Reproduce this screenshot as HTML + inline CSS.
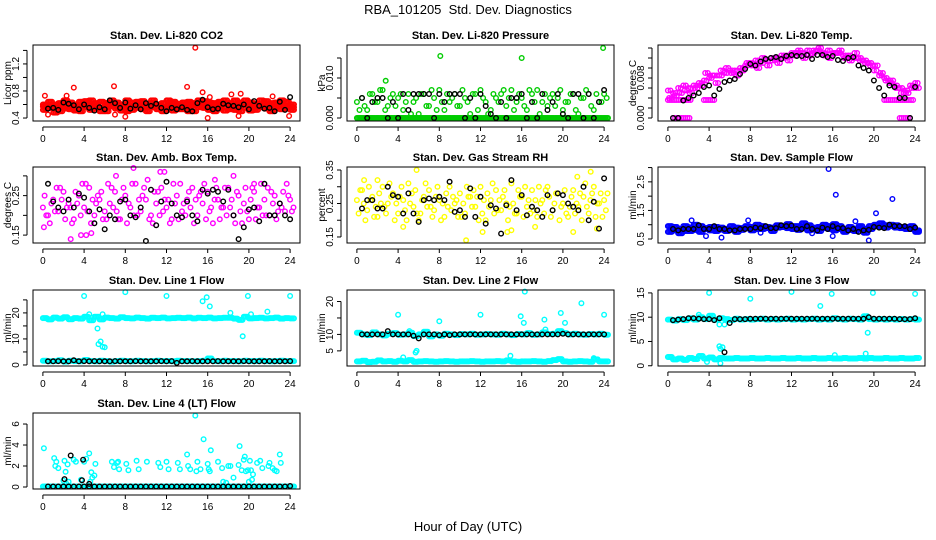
<!DOCTYPE html>
<html><head><meta charset="utf-8"><style>
body{margin:0;background:#fff}
svg{display:block;font-family:"Liberation Sans",sans-serif}
</style></head><body>
<svg id="chart" width="936" height="540" viewBox="0 0 936 540">
<text x="468" y="14" text-anchor="middle" font-size="13">RBA_101205&#160; Std. Dev. Diagnostics</text>
<text x="468" y="531" text-anchor="middle" font-size="13">Hour of Day (UTC)</text>
</svg>
<script>
// ---- data ----
const xTicks=[0,4,8,12,16,20,24];
const co2A=[0.57,0.60,0.55,0.62,0.58,0.53,0.60,0.64,0.56,0.59,0.62,0.55,0.58,0.61,0.54,0.60,0.57,0.63,0.55,0.59,0.61,0.56,0.58,0.62,0.54,0.60,0.57,0.63,0.56,0.59,0.61,0.55,0.58,0.62,0.54,0.60,0.57,0.52,0.59,0.61,0.56,0.58,0.60,0.54,0.62,0.57,0.59,0.55,0.60];
const co2B=[0.52,0.64,0.60,0.50,0.66,0.59,0.51,0.57,0.65,0.52,0.55,0.64,0.50,0.57,0.63,0.51,0.66,0.52,0.60,0.65,0.50,0.62,0.53,0.56,0.66,0.51,0.61,0.53,0.64,0.50,0.56,0.65,0.52,0.55,0.64,0.51,0.62,0.66,0.50,0.55,0.63,0.52,0.56,0.65,0.51,0.60,0.53,0.64,0.52];
const co2C=[0.60,0.55,0.48,0.58,0.54,0.63,0.56,0.50,0.61,0.66,0.58,0.50,0.62,0.66,0.58,0.55,0.50,0.58,0.64,0.53,0.57,0.66,0.60,0.50,0.58,0.64,0.53,0.59,0.50,0.62,0.66,0.59,0.63,0.50,0.58,0.66,0.53,0.58,0.63,0.66,0.51,0.61,0.66,0.58,0.50,0.63,0.66,0.58,0.56];
const co2OutX=[0.2,0.5,2.3,3,6.9,7,8,14,14.8,15.5,16,16.2,18.3,19.2,19,23.9,22.3];
const co2OutY=[0.73,0.45,0.73,0.85,0.87,0.45,0.42,0.86,1.44,0.78,0.40,0.71,0.75,0.76,0.43,0.43,0.72];
const co2Black=[0.54,0.55,0.52,0.63,0.61,0.59,0.53,0.60,0.55,0.51,0.56,0.53,0.66,0.62,0.55,0.63,0.54,0.59,0.53,0.62,0.58,0.61,0.55,0.50,0.55,0.53,0.56,0.52,0.50,0.62,0.67,0.56,0.53,0.54,0.61,0.59,0.58,0.56,0.60,0.53,0.65,0.58,0.54,0.55,0.50,0.64,0.52,0.71];

const prZero=[0,0,0,0,0,0,0,0,0,0,0,0,0,0,0,0,0,0,0,0,0,0,0,0,0,0,0,0,0,0,0,0,0,0,0,0,0,0,0,0,0,0,0,0,0,0,0,0,0];
const prA=[0.004,0.005,0.002,0.006,0.004,0.007,0.003,0.006,0.005,0.002,0.006,0.004,0.001,0.006,0.003,0.005,0.007,0.002,0.004,0.006,0.003,0.005,0.001,0.006,0.007,0.004,0.002,0.005,0.006,0.003,0.007,0.004,0.005,0.002,0.006,0.007,0.004,0.003,0.006,0.005,0.002,0.004,0.006,0.001,0.005,0.006,0.002,0.004,0.006];
const prB=[0.002,0.003,0.006,0.004,0.007,0.002,0.005,0.003,0.006,0.004,0.001,0.005,0.006,0.003,0.007,0.002,0.004,0.006,0.005,0.003,0.007,0.004,0.006,0.002,0.005,0.001,0.006,0.004,0.007,0.005,0.002,0.006,0.003,0.007,0.004,0.001,0.006,0.005,0.003,0.007,0.004,0.006,0.002,0.005,0.007,0.003,0.006,0.004,0.005];
const prOutX=[2.8,8.1,16,23.9];
const prOutY=[0.0093,0.0155,0.015,0.0175];
const prBlack=[0.005,0,0.004,0.005,0.005,0,0.004,0,0.006,0.002,0.006,0.006,0.006,0.006,0,0.006,0.004,0.006,0.006,0.006,0,0.005,0,0.006,0.003,0.001,0,0.004,0,0.005,0.005,0.006,0,0.004,0,0.006,0.002,0.004,0.006,0.001,0,0.006,0.006,0,0.006,0,0.004,0.007];

const tmA=[0.0055,0.005,0.006,0.0065,0.006,0.0065,0.007,0.0075,0.008,0.0085,0.0085,0.009,0.0095,0.0095,0.0100,0.0105,0.011,0.0115,0.011,0.0115,0.012,0.012,0.0125,0.0125,0.013,0.013,0.013,0.0135,0.013,0.0135,0.013,0.0135,0.013,0.013,0.0125,0.0125,0.012,0.012,0.0115,0.011,0.0095,0.0085,0.008,0.007,0.0065,0.006,0.0055,0.0065,0.007];
const tmB=[0.004,0.0045,0.005,0.0055,0.005,0.006,0.0065,0.009,0.0085,0.007,0.0095,0.010,0.009,0.0085,0.0095,0.011,0.0105,0.010,0.012,0.0105,0.0115,0.011,0.012,0.0115,0.0125,0.0135,0.012,0.0125,0.0135,0.014,0.0125,0.012,0.013,0.0135,0.012,0.0115,0.013,0.0115,0.011,0.0105,0.0105,0.009,0.0075,0.0075,0.006,0.005,0.005,0.006,0.006];
const tmFlatX=[0.0,0.2,0.4,0.6,0.8,1.0,1.2,1.4,1.6,1.8,2.0,2.2,3.5,3.7,3.9,4.1,4.3,4.5,21.0,21.2,21.4,21.6,21.8,22.0,22.2,22.4,22.6,22.8,23.0,23.2,23.4,23.6,23.8];
const tmFlatY=[0.0036,0.0036,0.0036,0.0036,0.0036,0.0036,0.0036,0.0036,0.0036,0.0036,0.0036,0.0036,0.0036,0.0036,0.0036,0.0036,0.0036,0.0036,0.0036,0.0036,0.0036,0.0036,0.0036,0.0036,0.0036,0.0036,0.0036,0.0036,0.0036,0.0036,0.0036,0.0036,0.0036];
const tmZeroX=[0.5,0.7,0.9,1.1,1.3,1.5,1.7,1.9,2.1,22.5,22.7,22.9,23.1,23.3,23.5];
const tmZeroY=[0,0,0,0,0,0,0,0,0,0,0,0,0,0,0];
const tmBlack=[0,0,0.0035,0.004,0.0045,0.005,0.0062,0.0065,0.0045,0.0058,0.0072,0.0075,0.0078,0.0088,0.0098,0.0108,0.0105,0.0113,0.0118,0.0120,0.0122,0.0118,0.0124,0.0126,0.0124,0.0124,0.0126,0.0118,0.0126,0.0126,0.0122,0.0124,0.0116,0.0114,0.0120,0.0122,0.0105,0.0100,0.0095,0.0075,0.006,0.0045,0.0065,0.0062,0.004,0.004,0,0.0062];

const amA=[0.22,0.20,0.24,0.21,0.26,0.23,0.19,0.25,0.22,0.27,0.20,0.24,0.21,0.23,0.26,0.19,0.25,0.22,0.28,0.21,0.24,0.20,0.23,0.27,0.22,0.19,0.25,0.21,0.24,0.27,0.20,0.23,0.26,0.18,0.24,0.22,0.27,0.20,0.25,0.23,0.19,0.26,0.22,0.24,0.20,0.25,0.23,0.21,0.24];
const amB=[0.25,0.18,0.21,0.27,0.19,0.22,0.26,0.20,0.28,0.18,0.23,0.26,0.19,0.27,0.21,0.24,0.18,0.28,0.20,0.25,0.29,0.18,0.26,0.21,0.24,0.28,0.19,0.23,0.26,0.18,0.25,0.28,0.21,0.24,0.19,0.27,0.22,0.18,0.21,0.27,0.24,0.19,0.28,0.20,0.26,0.19,0.22,0.28,0.21];
const amC=[0.20,0.23,0.27,0.24,0.22,0.18,0.23,0.28,0.21,0.24,0.25,0.19,0.28,0.22,0.19,0.27,0.23,0.20,0.24,0.27,0.19,0.26,0.20,0.24,0.18,0.23,0.28,0.20,0.22,0.24,0.26,0.19,0.22,0.27,0.22,0.20,0.24,0.26,0.18,0.21,0.27,0.22,0.20,0.27,0.23,0.21,0.26,0.25,0.22];
const amOutX=[0.1,2.7,3.7,4.2,4.7,7.1,8.8,11.4,11.8,16.7,18.5,20.5];
const amOutY=[0.17,0.14,0.15,0.15,0.155,0.30,0.32,0.31,0.31,0.29,0.30,0.28];
const amBlack=[0.28,0.235,0.22,0.21,0.24,0.22,0.255,0.245,0.21,0.18,0.215,0.165,0.2,0.19,0.235,0.24,0.2,0.195,0.22,0.135,0.265,0.175,0.235,0.285,0.23,0.2,0.195,0.235,0.2,0.185,0.265,0.255,0.265,0.26,0.235,0.265,0.2,0.14,0.17,0.215,0.22,0.185,0.28,0.2,0.2,0.23,0.2,0.19];

const rhA=[0.26,0.29,0.23,0.27,0.21,0.30,0.25,0.28,0.22,0.26,0.31,0.24,0.20,0.27,0.29,0.23,0.26,0.21,0.30,0.25,0.28,0.22,0.27,0.24,0.30,0.20,0.26,0.29,0.23,0.25,0.31,0.22,0.27,0.24,0.29,0.21,0.26,0.30,0.23,0.28,0.25,0.21,0.29,0.24,0.27,0.22,0.30,0.25,0.26];
const rhB=[0.22,0.25,0.30,0.21,0.28,0.24,0.31,0.20,0.27,0.23,0.25,0.29,0.22,0.31,0.24,0.27,0.20,0.28,0.23,0.26,0.21,0.30,0.24,0.27,0.22,0.28,0.31,0.23,0.27,0.20,0.25,0.29,0.21,0.26,0.23,0.30,0.22,0.27,0.25,0.20,0.29,0.24,0.22,0.28,0.31,0.26,0.21,0.28,0.23];
const rhC=[0.29,0.20,0.26,0.24,0.25,0.22,0.27,0.25,0.30,0.20,0.28,0.22,0.26,0.24,0.21,0.30,0.25,0.24,0.27,0.21,0.25,0.27,0.29,0.20,0.26,0.24,0.22,0.26,0.29,0.24,0.22,0.27,0.30,0.22,0.26,0.25,0.29,0.21,0.28,0.24,0.22,0.27,0.25,0.20,0.24,0.28,0.25,0.21,0.28];
const rhOutX=[0.7,2,5.8,10.6,12.2,14.6,15,17.3,21,21.4,22.7,23.3,4.5];
const rhOutY=[0.32,0.32,0.35,0.14,0.165,0.165,0.17,0.18,0.165,0.33,0.345,0.175,0.18];
const rhBlack=[0.235,0.26,0.26,0.235,0.235,0.30,0.275,0.27,0.22,0.28,0.22,0.195,0.26,0.265,0.26,0.27,0.26,0.315,0.225,0.23,0.21,0.295,0.21,0.27,0.19,0.245,0.235,0.16,0.245,0.32,0.23,0.275,0.215,0.24,0.23,0.21,0.275,0.23,0.28,0.275,0.25,0.24,0.23,0.30,0.20,0.255,0.175,0.325];

const sfA=[0.95,0.80,0.85,0.78,0.90,0.82,0.95,0.88,0.80,0.92,0.83,0.78,0.85,0.90,0.82,0.88,0.92,0.85,0.95,0.88,0.90,0.98,0.92,0.88,0.95,0.82,0.90,0.98,0.85,0.92,0.88,0.95,1.02,0.85,0.80,0.92,0.78,0.88,0.85,0.95,1.00,0.92,0.98,0.95,0.90,0.88,0.92,0.85,0.80];
const sfB=[0.75,0.92,0.70,0.95,0.78,1.00,0.75,0.85,0.92,0.78,0.90,0.85,0.95,0.75,0.88,0.95,0.80,1.00,0.85,0.92,0.78,0.90,0.95,1.02,0.85,0.95,1.05,0.80,0.90,0.78,1.00,0.85,0.80,0.95,0.75,0.82,0.85,0.95,0.72,0.85,0.95,1.05,0.90,1.00,0.98,0.92,0.85,0.95,0.75];
const sfOutX=[2.3,3.7,5.2,7.8,15.6,16.3,16,18.2,19.5,20.2,21.8,9,14];
const sfOutY=[1.15,0.6,0.55,1.15,2.95,2.05,0.6,1.12,0.45,1.4,1.9,0.72,0.7];
const sfBlack=[0.85,0.8,0.85,0.85,0.85,0.98,0.85,0.85,0.95,0.85,0.85,0.8,0.8,0.85,0.85,0.85,0.9,0.88,0.95,0.88,0.88,0.98,0.95,0.97,0.85,0.85,0.95,0.85,0.8,0.9,0.85,0.95,0.88,0.88,0.8,0.85,0.75,0.8,0.82,0.92,0.9,0.88,1.0,0.95,0.95,0.95,0.85,0.9];

const l1A=[18,17.5,18.2,17.8,18.3,17.6,18,17.8,18.5,17.2,18.5,17.5,18.2,18,17.8,18.3,18,17.9,18.2,18,17.8,18.1,18,18.2,17.9,18,18.1,18,18.2,17.9,18.1,18,18.2,17.9,18,18.1,18.1,17.8,17.3,18.5,17.9,18,18.1,17.9,18,18.2,17.8,18,17.9];
const l1B=[1.6,1.4,1.5,1.8,1.3,1.6,1.5,1.4,1.9,1.5,1.4,1.6,1.5,1.3,1.5,1.6,1.5,1.4,1.6,1.5,1.4,1.5,1.6,1.5,1.5,1.4,1.6,1.5,1.5,1.4,1.5,1.6,2.5,1.5,1.4,1.6,1.5,1.5,1.4,1.6,1.5,1.5,1.6,1.5,1.4,1.5,1.6,1.5,1.5];
const l1OutX=[4,8,12,15.5,15.9,16.2,19.9,24,5.3,5.4,5.6,5.8,6,19.4,21.8,18.2,20.2,4.5,5.8,16];
const l1OutY=[26.5,28,26.5,24.5,26,22.5,26.5,26.5,14,8,9,7,6.8,11,20.5,20,19.5,19.5,19.5,2.5];
const l1Black=[1.4,1.4,1.5,1.4,1.4,1.8,1.4,1.5,1.4,1.5,1.4,1.4,1.4,1.5,1.4,1.4,1.4,1.5,1.4,1.4,1.4,1.4,1.5,1.4,1.5,0.8,1.4,1.4,1.5,1.4,1.4,1.4,1.4,1.5,1.4,1.4,1.4,1.4,1.5,1.4,1.4,1.4,1.4,1.5,1.4,1.4,1.4,1.5];

const l2A=[10.5,10,9.8,10.6,10,9.7,10.2,10.4,9.9,10,10.5,9.5,10,10.8,9.4,10,9.6,10.2,10,9.8,10.1,10,10.2,9.9,10,10.1,10,9.9,10.2,10,9.8,10.1,10,10.4,9.9,10,10.6,10.1,10.2,11,10.4,10,10.2,10,9.9,10.1,10,10.2,9.9];
const l2B=[1.8,2,1.6,1.7,2.1,1.8,1.9,1.7,2,1.8,2.2,1.7,1.8,1.9,1.8,1.7,1.8,1.9,1.8,1.7,1.8,1.8,1.9,1.8,1.7,1.8,1.8,1.9,1.8,2.1,1.8,1.7,1.8,1.8,1.9,1.8,1.7,1.9,2.2,2.5,1.8,1.7,1.8,1.9,1.8,1.7,2.4,1.8,1.8];
const l2OutX=[4,8,12,15.9,16.2,16.3,18.2,19.8,20.2,21.8,24,5.8,5.7,14.9,4.5,5.1,18.3,23];
const l2OutY=[16,14,16,15.5,13.5,23,14.5,16.5,13.5,19.5,16,5,4.5,3.5,3,11,11.5,2.8];
const l2Black=[10,10,10,10,10,11,10,10,10,10,9.6,8.8,10,10,10,9.8,10,9.8,10,10,10,10,10,10,10,10,10,10,10,10,10,10,10,10,10,10,10,10,10,10.2,10,10,10,10,10,10,10,10];

const l3A=[9.5,9.3,9.6,9.4,9.8,9.5,10,9.6,10.3,9.5,9.8,9.6,9.4,9.7,9.5,9.6,9.5,9.6,9.7,9.5,9.6,9.5,9.6,9.7,9.5,9.6,9.5,9.6,9.7,9.5,9.6,9.5,9.8,9.6,9.5,9.7,9.6,9.5,10.2,9.6,9.5,9.6,9.5,9.6,9.5,9.6,9.5,9.6,9.5];
const l3B=[1.8,1.3,1.5,1.2,1.6,1.4,2,1.5,1.7,1.3,1.6,1.5,1.5,1.6,1.5,1.5,1.6,1.5,1.5,1.6,1.5,1.5,1.6,1.5,1.5,1.6,1.5,1.5,1.6,1.5,1.5,1.6,1.5,1.5,1.6,1.5,1.5,1.6,1.5,1.6,1.5,1.5,1.6,1.5,1.5,1.6,1.5,1.5,1.6];
const l3OutX=[4,8,12,15.9,14.8,19.9,24,19.4,5,5.3,5.1,5.1,3.8,16.2,19.2,5,5.5,3];
const l3OutY=[15,13.8,15.2,14.8,12.3,15,14.8,6.8,4,3.8,3.5,0.5,0.8,2.2,2.5,8.5,8.5,10.5];
const l3Black=[9.4,9.5,9.6,9.8,9.8,9.7,9.6,9.6,9.4,9.8,2.8,8.8,9.6,9.6,9.6,9.7,9.7,9.7,9.7,9.7,9.7,9.7,9.7,9.7,9.7,9.7,9.7,9.7,9.7,9.7,9.7,9.7,9.7,9.7,9.7,9.7,9.7,9.7,10,9.7,9.7,9.7,9.7,9.7,9.6,9.6,9.6,9.8];

const l4Band=[0.05,0.05,0.05,0.05,0.05,0.05,0.05,0.05,0.05,0.05,0.05,0.05,0.05,0.05,0.05,0.05,0.05,0.05,0.05,0.05,0.05,0.05,0.05,0.05,0.05,0.05,0.05,0.05,0.05,0.05,0.05,0.05,0.05,0.05,0.05,0.05,0.05,0.05,0.05,0.05,0.05,0.05,0.05,0.05,0.05,0.05,0.05,0.05,0.05];
const l4X=[0.1,1.1,1.2,1.3,1.5,2.1,2.2,2.4,3.0,3.2,4.0,4.2,4.5,4.7,4.8,5.0,5.1,6.7,6.9,7.2,7.3,7.4,8.1,8.3,9.1,9.3,10.1,11.2,11.4,12.0,12.2,13.1,13.3,14.0,14.1,14.3,14.8,14.9,15.0,15.3,15.6,16.0,16.1,16.2,16.3,17.0,17.4,17.5,17.8,18.0,18.2,18.5,19.0,19.1,19.3,19.5,19.6,19.7,19.9,20.1,20.2,20.3,20.4,20.0,20.8,21.1,21.3,21.9,22.0,22.3,22.5,22.7,23.0,23.1,2.0,2.3,2.5,3.7,4.6];
const l4Y=[3.7,2.75,2.0,2.4,1.8,2.5,1.45,2.15,2.6,2.4,2.4,2.7,3.2,1.4,0.9,1.1,2.2,2.4,1.9,2.3,2.4,1.7,2.2,1.6,2.5,1.7,2.4,2.3,1.9,2.4,1.7,2.3,1.7,3.1,2.0,1.7,6.8,1.5,2.4,1.7,4.55,2.2,1.7,1.5,3.5,2.4,1.8,0.5,0.4,2.0,2.0,0.9,2.1,3.9,1.6,2.6,2.9,1.5,1.6,2.5,1.6,0.7,1.2,0.5,2.3,2.5,1.8,2.0,2.3,1.8,1.6,1.5,3.1,2.3,0.6,0.3,0.5,0.7,0.5];
const l4Black=[0.05,0.05,0.05,0.05,0.05,0.05,0.05,0.05,0.05,0.05,0.05,0.05,0.05,0.05,0.05,0.05,0.05,0.05,0.05,0.05,0.05,0.05,0.05,0.05,0.05,0.05,0.05,0.05,0.05,0.05,0.05,0.05,0.05,0.05,0.05,0.05,0.05,0.05,0.05,0.05,0.05,0.05,0.05,0.05,0.05,0.05,0.05,0.1];
const l4BlackOutX=[2.7,3.9,2.1,3.8,4.5];
const l4BlackOutY=[3,2.6,0.75,0.65,0.3];

// ---- rendering ----
const NS='http://www.w3.org/2000/svg';
const svg=document.getElementById('chart');
function mk(tag,attrs,parent){const e=document.createElementNS(NS,tag);for(const k in attrs)e.setAttribute(k,attrs[k]);(parent||svg).appendChild(e);return e;}
function hrs(n,off){const a=[];for(let i=0;i<n;i++)a.push(off+24*i/(n-1));return a;}
function blackHrs(n){const a=[];for(let i=0;i<n;i++)a.push(0.5+i*0.5);return a;}
const colL=[33,347,658], colW=267, rowT=[45,167,290,413], rowH=76;
function dense(arr){return [[hrs(49,0),arr],[hrs(49,0.12),arr],[hrs(49,0.25),arr],[hrs(49,0.38),arr]];}
function light(arr,o){return [[hrs(49,o),arr]];}
const panels=[
 {t:'Stan. Dev. Li-820 CO2',yl:'Licor ppm',ylim:[0.356,1.48],ticks:[0.4,0.6,0.8,1.0,1.2,1.4],labs:[0.4,0.8,1.2],fmt:1,col:'#ff0000',c:0,r:0,
  s:[...dense(co2A),...dense(co2B),...dense(co2C),[co2OutX,co2OutY]],b:[[blackHrs(48),co2Black]]},
 {t:'Stan. Dev. Li-820 Pressure',yl:'kPa',ylim:[-0.00075,0.01825],ticks:[0,0.005,0.010,0.015],labs:[0,0.010],fmt:3,col:'#00cc00',c:1,r:0,
  s:[...dense(prZero),...light(prA,0),...light(prB,0.25),[prOutX,prOutY]],b:[[blackHrs(48),prBlack]]},
 {t:'Stan. Dev. Li-820 Temp.',yl:'degrees C',ylim:[-0.0006,0.0146],ticks:[0,0.002,0.004,0.006,0.008,0.010,0.012,0.014],labs:[0,0.008],fmt:3,col:'#ff00ff',c:2,r:0,
  s:[...light(tmA,0),...light(tmA,0.25),...light(tmB,0.12),...light(tmB,0.37),[tmFlatX,tmFlatY],[tmZeroX,tmZeroY]],b:[[blackHrs(48),tmBlack]]},
 {t:'Stan. Dev. Amb. Box Temp.',yl:'degrees C',ylim:[0.13,0.3225],ticks:[0.15,0.20,0.25,0.30],labs:[0.15,0.25],fmt:2,col:'#ff00ff',c:0,r:1,
  s:[...light(amA,0),...light(amB,0.17),...light(amC,0.33),[amOutX,amOutY]],b:[[blackHrs(48),amBlack]]},
 {t:'Stan. Dev. Gas Stream RH',yl:'percent',ylim:[0.132,0.359],ticks:[0.15,0.20,0.25,0.30,0.35],labs:[0.15,0.25,0.35],fmt:2,col:'#ffff00',c:1,r:1,
  s:[...light(rhA,0),...light(rhB,0.17),...light(rhC,0.33),[rhOutX,rhOutY]],b:[[blackHrs(48),rhBlack]]},
 {t:'Stan. Dev. Sample Flow',yl:'ml/min',ylim:[0.36,3.02],ticks:[0.5,1.0,1.5,2.0,2.5,3.0],labs:[0.5,1.5,2.5],fmt:1,col:'#0000ff',c:2,r:1,
  s:[...dense(sfA),...dense(sfB),[sfOutX,sfOutY]],b:[[blackHrs(48),sfBlack]]},
 {t:'Stan. Dev. Line 1 Flow',yl:'ml/min',ylim:[-0.4,28.8],ticks:[0,5,10,15,20,25],labs:[0,10,20],fmt:0,col:'#00ffff',c:0,r:2,
  s:[...dense(l1A),...dense(l1B),[l1OutX,l1OutY]],b:[[blackHrs(48),l1Black]]},
 {t:'Stan. Dev. Line 2 Flow',yl:'ml/min',ylim:[0.4,23.5],ticks:[5,10,15,20],labs:[5,10,20],fmt:0,col:'#00ffff',c:1,r:2,
  s:[...dense(l2A),...dense(l2B),[l2OutX,l2OutY]],b:[[blackHrs(48),l2Black]]},
 {t:'Stan. Dev. Line 3 Flow',yl:'ml/min',ylim:[-0.05,15.6],ticks:[0,5,10,15],labs:[0,5,10,15],fmt:0,col:'#00ffff',c:2,r:2,
  s:[...dense(l3A),...dense(l3B),[l3OutX,l3OutY]],b:[[blackHrs(48),l3Black]]},
 {t:'Stan. Dev. Line 4 (LT) Flow',yl:'ml/min',ylim:[-0.19,7.05],ticks:[0,2,4,6],labs:[0,2,4,6],fmt:0,col:'#00ffff',c:0,r:3,
  s:[...dense(l4Band),[l4X,l4Y]],b:[[blackHrs(48),l4Black],[l4BlackOutX,l4BlackOutY]]}
];
panels.forEach((p,pi)=>{
  const L=colL[p.c],T=rowT[p.r],W=colW,H=rowH;
  const g=mk('g',{});
  
  
  const sx=v=>L+(v+0.96)/25.92*W;
  const sy=v=>T+H-(v-p.ylim[0])/(p.ylim[1]-p.ylim[0])*H;
  const title=mk('text',{x:L+W/2,y:T-6,'text-anchor':'middle','font-size':11,'font-weight':'bold'},g);
  title.textContent=p.t;
  
  
  const pts=mk('g',{fill:'none','stroke-width':1.4},g);
  
  
  const drawSet=(sets,color)=>sets.forEach(([xs,ys])=>xs.forEach((x,i)=>{
    if(x>24.4)return;
    const c=mk('circle',{cx:sx(x).toFixed(1),cy:sy(ys[i]).toFixed(1),r:2.3,stroke:color},pts);
    
    
  }));
  drawSet(p.s,p.col);
  drawSet(p.b,'#000');
  const box=mk('rect',{x:L,y:T,width:W,height:H,fill:'none',stroke:'#000','stroke-width':1},g);
  
  
  const ax=L-6, byy=T+H+6;
  mk('line',{x1:sx(0),x2:sx(24),y1:byy,y2:byy,stroke:'#000'},g);
  xTicks.forEach(v=>{
    mk('line',{x1:sx(v),x2:sx(v),y1:byy,y2:byy+4,stroke:'#000'},g);
    const t=mk('text',{x:sx(v),y:byy+15,'text-anchor':'middle','font-size':10},g);
    t.textContent=v;
    
    
  });
  mk('line',{x1:ax,x2:ax,y1:sy(p.ticks[0]),y2:sy(p.ticks[p.ticks.length-1]),stroke:'#000'},g);
  p.ticks.forEach(v=>mk('line',{x1:ax-4,x2:ax,y1:sy(v),y2:sy(v),stroke:'#000'},g));
  p.labs.forEach(v=>{
    const y=sy(v);
    const t=mk('text',{x:0,y:0,'text-anchor':'middle','font-size':10,transform:`translate(${ax-8},${y}) rotate(-90)`},g);
    t.textContent=v.toFixed(p.fmt);
    
    
  });
  const yl=mk('text',{x:0,y:0,'text-anchor':'middle','font-size':10,transform:`translate(${L-22},${T+H/2}) rotate(-90)`},g);
  yl.textContent=p.yl;
  
  
});
</script>
</body></html>
